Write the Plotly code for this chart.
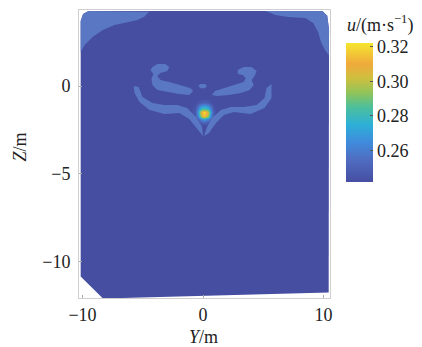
import plotly.graph_objects as go

# ---------------- data (Y, Z in m; u in m·s^-1) ----------------
field_y = [-10.15, -9.95, -9.5, 9.9, 10.3, 10.45, 10.42, -8.3, -10.15]
field_z = [3.7, 4.1, 4.27, 4.27, 4.0, 3.2, -11.75, -12.1, -10.85]

tl_y = [-10.15, -9.95, -9.5, -4.47, -4.88, -5.43, -6.26, -7.35, -8.31, -9.14, -9.82, -10.15]
tl_z = [3.7, 4.1, 4.27, 4.23, 3.94, 3.76, 3.63, 3.47, 3.19, 2.81, 2.33, 1.94]

tr_y = [5.19, 6.0, 7.08, 8.48, 9.14, 9.55, 9.79, 10.12, 10.43, 10.45, 10.3, 9.9]
tr_z = [4.27, 4.04, 3.93, 3.87, 3.59, 3.07, 2.5, 2.05, 1.76, 3.2, 4.0, 4.27]

ul_y = [-4.2, -3.79, -3.13, -2.8, -2.96, -3.54, -3.79, -3.54, -2.8, -1.81, -1.07, -0.82,
        -1.15, -1.98, -2.96, -3.79, -4.2, -4.28, -4.12, -4.36]
ul_z = [1.08, 1.25, 1.25, 1.08, 0.85, 0.74, 0.57, 0.34, 0.23, 0.06, -0.11, -0.28,
        -0.51, -0.46, -0.34, -0.23, 0.06, 0.4, 0.68, 0.91]

ur_y = [2.88, 3.37, 4.03, 4.44, 4.28, 4.03, 4.2, 3.87, 3.13, 2.14, 1.15, 0.74,
        0.99, 1.81, 2.72, 3.37, 3.54, 3.29, 2.88]
ur_z = [0.91, 1.08, 1.08, 0.85, 0.57, 0.34, 0.06, -0.23, -0.4, -0.51, -0.57, -0.51,
        -0.28, -0.11, 0.06, 0.23, 0.46, 0.63, 0.68]

lw_y = [-5.76, -5.68, -5.27, -4.44, -3.21, -1.98, -1.15, -0.58, 0.0,
        -0.08, -0.58, -1.32, -2.14, -3.21, -4.2, -5.02, -5.35]
lw_z = [0.0, -0.4, -0.91, -1.37, -1.59, -1.54, -1.88, -2.39, -2.85,
        -2.33, -1.76, -1.25, -1.08, -1.08, -0.97, -0.63, -0.06]

rw_y = [5.68, 5.68, 5.1, 3.95, 2.55, 1.73, 1.07, 0.49, 0.08,
        0.33, 0.74, 1.48, 2.3, 3.37, 4.44, 5.1, 5.27]
rw_z = [0.11, -0.68, -1.25, -1.59, -1.48, -1.65, -2.11, -2.67, -2.85,
        -2.33, -1.82, -1.37, -1.2, -1.2, -1.08, -0.68, -0.11]

cb_y = [-0.4, -0.2, 0.15, 0.33, 0.15, -0.2]
cb_z = [0.0, 0.12, 0.12, 0.0, -0.12, -0.12]

spot_y = [-0.72, -0.45, -0.19, 0.08, 0.35, 0.61, 0.88]
spot_z = [-2.1, -1.9, -1.7, -1.5, -1.3, -1.1, -0.9]
spot_u = [
    [0.242, 0.243, 0.246, 0.248, 0.246, 0.243, 0.242],
    [0.243, 0.250, 0.262, 0.270, 0.262, 0.250, 0.243],
    [0.245, 0.262, 0.295, 0.315, 0.296, 0.262, 0.245],
    [0.246, 0.268, 0.305, 0.322, 0.306, 0.268, 0.246],
    [0.245, 0.262, 0.282, 0.288, 0.282, 0.262, 0.245],
    [0.243, 0.252, 0.262, 0.266, 0.262, 0.252, 0.243],
    [0.242, 0.243, 0.246, 0.248, 0.246, 0.243, 0.242],
]

u_min, u_max = 0.242, 0.322
cbar_ticks = [0.26, 0.28, 0.30, 0.32]
cbar_text = ["0.26", "0.28", "0.30", "0.32"]
x_ticks = [-10, 0, 10]
x_text = ["\u221210", "0", "10"]
y_ticks = [-10, -5, 0]
y_text = ["\u221210", "\u22125", "0"]

# ---------------- styling ----------------
FIELD = "#464EA2"
LIGHT = "#5A77C3"
FONT = "Liberation Serif"

colorscale = [
    [0.00, FIELD],
    [0.16, "#4F6CC0"],
    [0.29, "#3F8CDC"],
    [0.41, "#2DB0D8"],
    [0.54, "#4DBF9A"],
    [0.64, "#90C45A"],
    [0.75, "#D0BF3E"],
    [0.85, "#F0AA3C"],
    [1.00, "#F5E62E"],
]

fig = go.Figure()


def path_of(xs, ys):
    pts = " L ".join(f"{a},{b}" for a, b in zip(xs, ys))
    return "M " + pts + " Z"


shapes = []
for xs, ys, col in [(field_y, field_z, FIELD), (tl_y, tl_z, LIGHT), (tr_y, tr_z, LIGHT)]:
    shapes.append(dict(type="path", xref="x", yref="y", path=path_of(xs, ys),
                       fillcolor=col, line=dict(width=0), layer="below"))

fig.add_trace(go.Heatmap(
    x=spot_y, y=spot_z, z=spot_u, zsmooth="best",
    colorscale=colorscale, zmin=u_min, zmax=u_max,
    hoverinfo="skip",
    colorbar=dict(
        thickness=27, len=139, lenmode="pixels",
        x=(348 - 79) / 253, xanchor="left", xpad=0,
        y=(298 - 43) / 288, yanchor="top", ypad=0,
        outlinewidth=0,
        tickvals=cbar_ticks, ticktext=cbar_text,
        ticks="inside", ticklen=3, tickcolor="#555",
        tickfont=dict(family=FONT, size=18, color="#222"),
    ),
))


def poly(xs, ys, color):
    fig.add_trace(go.Scatter(x=xs, y=ys, mode="lines", fill="toself",
                             fillcolor=color, line=dict(width=0, color=color),
                             hoverinfo="skip", showlegend=False))


poly(ul_y, ul_z, LIGHT)
poly(ur_y, ur_z, LIGHT)
poly(lw_y, lw_z, LIGHT)
poly(rw_y, rw_z, LIGHT)
poly(cb_y, cb_z, LIGHT)

axis_common = dict(
    showgrid=False, zeroline=False, showline=True, mirror=True,
    linecolor="#CFCFCF", linewidth=1,
    ticks="inside", ticklen=3, tickcolor="#AAAAAA",
    tickfont=dict(family=FONT, size=18, color="#222"),
)

fig.update_layout(
    width=422, height=347,
    margin=dict(l=79, r=90, t=10, b=49),
    paper_bgcolor="white", plot_bgcolor="white",
    shapes=shapes,
    xaxis=dict(range=[-10.29, 10.53], tickvals=x_ticks, ticktext=x_text,
               ticklabelstandoff=0, **axis_common),
    yaxis=dict(range=[-12.07, 4.33], tickvals=y_ticks, ticktext=y_text,
               ticklabelstandoff=4, **axis_common),
    annotations=[
        dict(text="<i>Y</i>/m", xref="x", x=0, yref="paper", y=-0.135,
             showarrow=False, xanchor="center", yanchor="middle",
             font=dict(family=FONT, size=18, color="#222")),
        dict(text="<i>Z</i>/m", xref="paper", x=-0.233, yref="paper", y=0.524,
             textangle=-90, showarrow=False, xanchor="center", yanchor="middle",
             font=dict(family=FONT, size=18, color="#222")),
        dict(text="<i>u</i>/(m\u00b7s<sup>\u22121</sup>)", xref="paper",
             x=(382 - 79) / 253, yref="paper", y=(298 - 24) / 288,
             showarrow=False, xanchor="center", yanchor="middle",
             font=dict(family=FONT, size=18, color="#222")),
    ],
)

fig.write_html("out.html")
